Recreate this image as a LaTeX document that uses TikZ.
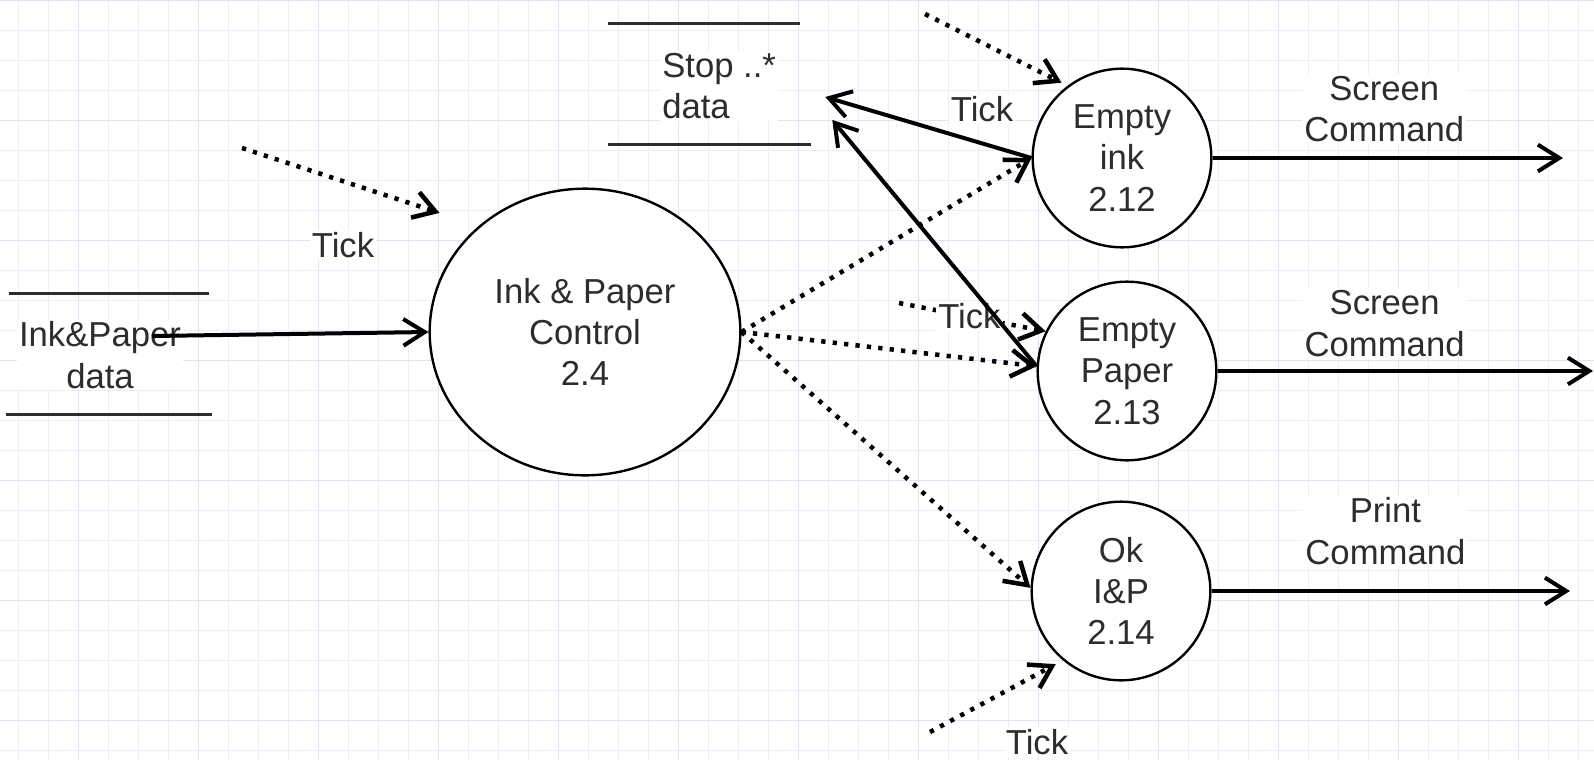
\documentclass[tikz,border=0pt]{standalone}
\usepackage{fontspec}
\setmainfont{Liberation Sans}
\usepackage{tikz}
\usetikzlibrary{arrows.meta, positioning, calc, shapes.geometric}
\definecolor{gridminor}{RGB}{236,236,255}
\definecolor{gridmajor}{RGB}{225,225,252}
\definecolor{textgrey}{RGB}{45,45,45}
\newcommand{\dfdfont}{\fontsize{26}{31}\selectfont}
\tikzset{
	process/.style={
		draw,
		circle,
		fill=white,
		line width=1.8pt,
		inner sep=0pt,
		minimum size=134pt,
		align=center,
		text=textgrey,
		font=\dfdfont
	},
	store/.style={
		inner sep=0pt,
		minimum width=150pt,
		minimum height=90pt
	},
	storeline/.style={
		draw=textgrey,
		line width=2.4pt
	},
	lbl/.style={
		fill=white,
		inner sep=1.5pt,
		align=center,
		text=textgrey,
		font=\dfdfont
	},
	flow/.style={
		line width=3pt,
		-{Straight Barb[length=16pt, width=20pt]}
	},
	tickflow/.style={
		flow,
		line width=3.4pt,
		dash pattern=on 3.2pt off 5.4pt
	}
}

\begin{document}
\begin{tikzpicture}[x=0.75pt, y=-0.75pt]
	\useasboundingbox (0,0) rectangle (1594,760);

	% background grid
	\begin{scope}[line width=0.75pt]
	\foreach \gx in {18,48,...,1578} {
		\draw[gridminor] (\gx,0) -- (\gx,760);
	}
	\foreach \gy in {0,30,...,750} {
		\draw[gridminor] (0,\gy) -- (1594,\gy);
	}
	\foreach \gx in {78,198,...,1578} {
		\draw[gridmajor] (\gx,0) -- (\gx,760);
	}
	\foreach \gy in {0,120,...,720} {
		\draw[gridmajor] (0,\gy) -- (1594,\gy);
	}
	\end{scope}

	% processes
	\node[process, ellipse, minimum width=233pt, minimum height=215pt] (control) at (585,332) {Ink \& Paper\\Control\\2.4};
	\node[process] (emptyink) at (1122,158) {Empty\\ink\\2.12};
	\node[process] (emptypaper) at (1127,371) {Empty\\Paper\\2.13};
	\node[process] (okip) at (1121,591) {Ok\\I\&P\\2.14};

	% data stores
	\node[store] (inkstore) at (109,354) {};
	\draw[storeline] (inkstore.north west) -- (inkstore.north east);
	\draw[storeline] ([xshift=-2pt]inkstore.south west) -- ([xshift=2pt]inkstore.south east);
	\node[lbl] (inktext) at (100,355) {Ink\&Paper\\data};

	\node[store] (stopstore) at (708,84) {};
	\draw[storeline] (stopstore.north west) -- ([xshift=-6pt]stopstore.north east);
	\draw[storeline] (stopstore.south west) -- ([xshift=2pt]stopstore.south east);
	\node[lbl, align=left, anchor=west] (stoptext) at (660,86) {Stop ..*\\data};

	% free ends of the tick flows
	\coordinate (tickctrl) at (242,148);
	\coordinate (tickink) at (925,14);
	\coordinate (tickpaper) at (899,303);
	\coordinate (tickok) at (930,732);

	% free ends of the commands
	\coordinate (outink) at (1563,158);
	\coordinate (outpaper) at (1593,371);
	\coordinate (outok) at (1570,591);
	\path (inktext.center) ++(52,-19) coordinate (inkout);

	% control flows
	\begin{scope}[tickflow]
	\draw[shorten >=31pt] (tickctrl) -- (control.135);
	\draw[shorten >=5pt] (tickink) -- (emptyink.127);
	\draw (tickpaper) -- (emptypaper.154) node[lbl, pos=0.48] (tickpaperlbl) {Tick};
	\draw[shorten >=6pt] (tickok) -- (okip.230);

	\draw (control.east) -- (emptyink.west);
	\draw (control.east) -- (emptypaper.177);
	\draw (control.east) -- (okip.178);
	\end{scope}

	% tick labels
	\node[lbl] (tickctrllbl) at (343,245) {Tick};
	\node[lbl] (tickinklbl) at (982,109) {Tick};
	\node[lbl] (tickoklbl) at (1037,742) {Tick};

	% data flows
	\begin{scope}[flow]
	\draw (inkout) -- (control.west);
	\draw (emptyink.west) -- ([shift={(17,13)}]stopstore.east);
	\draw (emptypaper.177) -- ([shift={(24,36)}]stopstore.east);

	\draw (emptyink.east) -- (outink) node[lbl, pos=0.49, above=9pt] {Screen\\Command};
	\draw (emptypaper.east) -- (outpaper) node[lbl, pos=0.445, above=8pt] {Screen\\Command};
	\draw (okip.east) -- (outok) node[lbl, pos=0.485, above=17pt] {Print\\Command};
	\end{scope}
\end{tikzpicture}
\end{document}
